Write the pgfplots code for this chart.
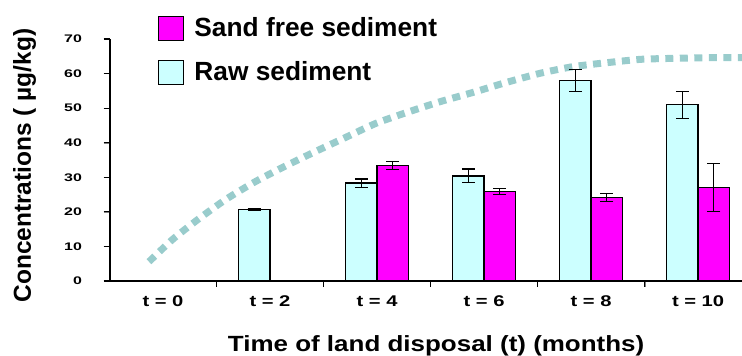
\documentclass[border=0pt]{standalone}
\usepackage{fontspec}
\setmainfont{Liberation Sans}
\usepackage{pgfplots}
\usepackage{pgfplotstable}
\pgfplotsset{compat=1.18}
\definecolor{rawc}{HTML}{CCFFFF}
\definecolor{sandc}{HTML}{FF00FF}
\definecolor{curvec}{HTML}{99CCCC}
% x = category index shifted by half a bar width (15.75bp = 0.1473 units)
\pgfplotstableread{
x y e
0.8527 20.7 0.3
1.8527 28.3 1.2
2.8527 30.4 2.0
3.8527 58.0 3.1
4.8527 51.0 3.9
}\rawdata
\pgfplotstableread{
x y e
2.1473 33.4 1.1
3.1473 25.9 0.8
4.1473 24.1 1.1
5.1473 27.0 7.0
}\sanddata
\begin{document}
\begin{tikzpicture}
\begin{axis}[
  name=ax,
  at={(0,0)}, anchor=south west,
  scale only axis, width=632bp, height=242bp,
  xmin=-0.495, xmax=5.41, ymin=0, ymax=70,
  axis x line*=bottom, axis y line*=left,
  /pgf/number format/assume math mode=true,
  ytick={0,10,...,70},
  xtick={-0.5,0.5,1.5,2.5,3.5,4.5},
  xticklabels={},
  extra x ticks={0,1,2,3,4,5},
  extra x tick labels={t = 0, t = 2, t = 4, t = 6, t = 8, t = 10},
  extra x tick style={major tick length=0pt},
  tick align=outside,
  major tick length=6bp,
  unbounded coords=jump,
  yticklabel style={font=\bfseries\fontsize{11bp}{13bp}\selectfont, xscale=1.45, inner sep=0pt, anchor=east, xshift=-15bp},
  xticklabel style={font=\bfseries\fontsize{15.5bp}{18bp}\selectfont, xscale=1.3, inner sep=0pt, anchor=north, yshift=-14.7bp},
  xlabel={Time of land disposal (t) (months)},
  xlabel style={at={(axis description cs:0.516,0)}, anchor=base, yshift=-70bp, inner sep=0pt, xscale=1.18, font=\bfseries\fontsize{22bp}{26bp}\selectfont},
  ylabel={Concentrations ( µg/kg)},
  ylabel style={at={(axis description cs:-0.125,0.477)}, anchor=base, inner sep=0pt, font=\bfseries\fontsize{24.5bp}{28bp}\selectfont},
  clip=false,
  legend style={at={(axis description cs:0.076,1.096)}, anchor=north west, draw=none, fill=none, inner sep=0pt, row sep=18.5bp,
    nodes={inner sep=0pt}, font=\bfseries\fontsize{26.3bp}{30bp}\selectfont,
    /tikz/every odd column/.append style={column sep=10bp}},
  legend cell align=left,
  legend image code/.code={\draw[#1] (0bp,-13bp) rectangle (25bp,11bp);},
]
\addplot[forget plot, color=curvec, line width=7bp, dash pattern=on 8bp off 6.5bp, smooth, tension=0.4] coordinates {
(-0.131,5.58) (0.091,12.06) (0.336,18.02) (0.589,23.63) (0.857,28.64) (1.131,33.06)
(1.421,37.40) (1.701,41.45) (1.991,45.62) (2.283,48.80) (2.589,51.87) (2.900,54.58)
(3.199,57.36) (3.523,60.08) (3.829,61.99) (4.147,63.15) (4.467,64.13) (4.794,64.42)
(5.106,64.59) (5.411,64.59)};
\addplot[forget plot, ybar, bar width=31.5bp, bar shift=0pt, fill=sandc, draw=black, line width=1.4bp,
  error bars/.cd, y dir=both, y explicit,
  error bar style={line width=1.2bp, black},
  error mark options={rotate=90, mark size=6.5bp, line width=1.2bp, black}]
  table[x=x, y=y, y error=e] {\sanddata};
\addplot[forget plot, ybar, bar width=31.5bp, bar shift=0pt, fill=rawc, draw=black, line width=1.4bp,
  error bars/.cd, y dir=both, y explicit,
  error bar style={line width=1.2bp, black},
  error mark options={rotate=90, mark size=6.5bp, line width=1.2bp, black}]
  table[x=x, y=y, y error=e] {\rawdata};
% axis lines drawn as plots
\addplot[forget plot, black, line width=1.4bp, mark=none] coordinates {(-0.495,70) (-0.495,0) (5.41,0)};
% y tick marks
\addplot[forget plot, black, line width=1.2bp, mark=none] coordinates {
(-0.5557,0) (-0.495,0) (nan,nan)
(-0.5557,10) (-0.495,10) (nan,nan)
(-0.5557,20) (-0.495,20) (nan,nan)
(-0.5557,30) (-0.495,30) (nan,nan)
(-0.5557,40) (-0.495,40) (nan,nan)
(-0.5557,50) (-0.495,50) (nan,nan)
(-0.5557,60) (-0.495,60) (nan,nan)
(-0.5557,70) (-0.495,70)};
% x tick marks at category boundaries
\addplot[forget plot, black, line width=1.2bp, mark=none] coordinates {
(0.5,0) (0.5,-1.736) (nan,nan)
(1.5,0) (1.5,-1.736) (nan,nan)
(2.5,0) (2.5,-1.736) (nan,nan)
(3.5,0) (3.5,-1.736) (nan,nan)
(4.5,0) (4.5,-1.736)};
\addlegendimage{fill=sandc, draw=black, line width=1.2bp}
\addlegendentry{Sand free sediment}
\addlegendimage{fill=rawc, draw=black, line width=1.2bp}
\addlegendentry{Raw sediment}
\end{axis}
\pgfresetboundingbox
\path (-110bp,-75bp) rectangle (632bp,281bp);
\end{tikzpicture}
\end{document}
